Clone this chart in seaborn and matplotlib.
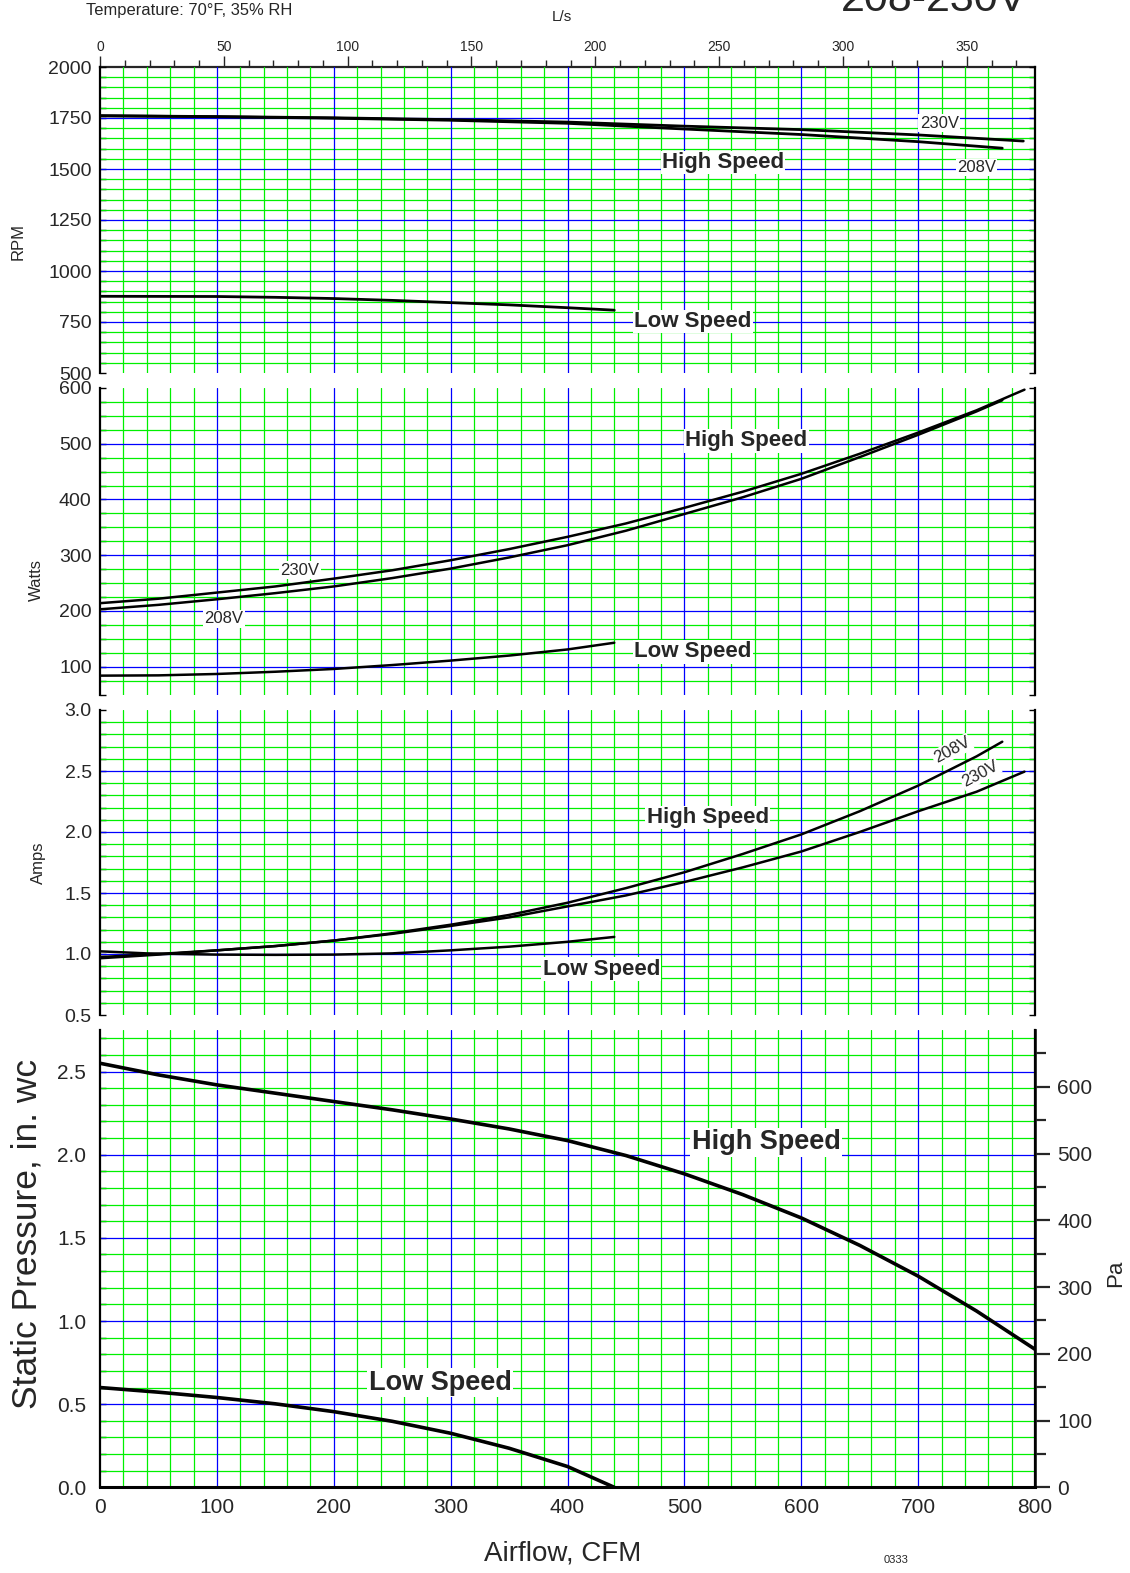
import numpy as np
import pandas as pd
import matplotlib
matplotlib.use("Agg")
import matplotlib.pyplot as plt
import seaborn as sns
from matplotlib.ticker import MultipleLocator, FormatStrFormatter

sns.set_style("white")
plt.rcParams['font.family'] = ['Liberation Sans', 'DejaVu Sans']

# ---------------- data ----------------
rpm_cfm_230 = [0, 100, 200, 300, 400, 500, 600, 700, 790]
rpm_high_230 = [1761, 1757, 1751, 1742, 1730, 1710, 1693, 1667, 1637]
rpm_cfm_208 = [0, 100, 200, 300, 400, 500, 600, 700, 772]
rpm_high_208 = [1761, 1756, 1749, 1739, 1724, 1696, 1669, 1634, 1602]
rpm_cfm_low = [0, 100, 150, 200, 250, 300, 350, 400, 440]
rpm_low = [876, 875, 871, 865, 856, 845, 834, 820, 808]

w_cfm_230 = [0, 50, 100, 150, 200, 250, 300, 350, 400, 450, 500, 550, 600, 650, 700, 750, 791]
w_high_230 = [214, 222, 233, 244, 258, 273, 291, 311, 333, 357, 385, 414, 446, 482, 520, 560, 597]
w_cfm_208 = [0, 50, 100, 150, 200, 250, 300, 350, 400, 450, 500, 550, 600, 650, 700, 750, 772]
w_high_208 = [203, 211, 221, 232, 244, 259, 276, 296, 318, 344, 374, 404, 437, 476, 516, 558, 578]
w_cfm_low = [0, 50, 100, 150, 200, 250, 300, 350, 400, 440]
w_low = [84, 84.5, 87, 91, 96, 103, 111, 120, 131, 143]

a_cfm_230 = [0, 50, 100, 150, 200, 250, 300, 350, 400, 450, 500, 550, 600, 650, 700, 750, 791]
a_high_230 = [0.975, 1.0, 1.03, 1.065, 1.11, 1.165, 1.23, 1.30, 1.39, 1.48, 1.59, 1.71, 1.84, 2.0, 2.17, 2.33, 2.495]
a_cfm_208 = [0, 50, 100, 150, 200, 250, 300, 350, 400, 450, 500, 550, 600, 650, 700, 750, 772]
a_high_208 = [0.965, 0.995, 1.03, 1.065, 1.11, 1.17, 1.24, 1.32, 1.42, 1.54, 1.67, 1.82, 1.98, 2.17, 2.38, 2.62, 2.74]
a_cfm_low = [0, 40, 100, 150, 200, 250, 300, 350, 400, 440]
a_low = [1.022, 1.005, 0.995, 0.993, 0.995, 1.005, 1.03, 1.06, 1.10, 1.14]

sp_cfm_high = [0, 50, 100, 150, 200, 250, 300, 350, 400, 450, 500, 550, 600, 650, 700, 750, 800]
sp_high = [2.55, 2.48, 2.42, 2.37, 2.32, 2.27, 2.215, 2.155, 2.085, 1.995, 1.885, 1.76, 1.62, 1.455, 1.27, 1.06, 0.83]
sp_cfm_low = [0, 50, 100, 150, 200, 250, 300, 350, 400, 440]
sp_low = [0.60, 0.572, 0.54, 0.502, 0.455, 0.397, 0.325, 0.235, 0.125, 0.0]

x_ticks = [0, 100, 200, 300, 400, 500, 600, 700, 800]

GREEN = '#00f000'
BLUE = '#0000ff'
CFM_PER_LS = 2.11888
PA_PER_IN = 249.089

# ---------------- figure / axes ----------------
W_PX, H_PX = 1130, 1573
fig = plt.figure(figsize=(W_PX / 100, H_PX / 100), dpi=100)
LEFT = 100 / W_PX
WIDTH = 935 / W_PX


def make_ax(top, bottom):
    return fig.add_axes([LEFT, 1 - bottom / H_PX, WIDTH, (bottom - top) / H_PX])


ax_rpm = make_ax(67, 373)
ax_w = make_ax(388, 694.6)
ax_a = make_ax(710, 1015)
ax_sp = make_ax(1030, 1487.3)


def setup(ax, ymin, ymax, minor, major, fmt, labelsize, pad, top=False, bottom=False, right_ticks=True):
    ax.set_xlim(0, 800)
    ax.set_ylim(ymin, ymax)
    ax.set_facecolor('white')
    for k in range(1, 40):
        x = k * 20
        if x % 100 != 0:
            ax.axvline(x, color=GREEN, lw=0.9, zorder=1)
    for k in range(1, 8):
        ax.axvline(k * 100, color=BLUE, lw=0.9, zorder=1.2)
    kmin = int(np.ceil(ymin / minor - 1e-9))
    kmax = int(np.floor(ymax / minor + 1e-9))
    ratio = int(round(major / minor))
    for k in range(kmin, kmax + 1):
        y = k * minor
        if abs(y - ymin) < 1e-9 or abs(y - ymax) < 1e-9:
            continue
        if k % ratio == 0:
            ax.axhline(y, color=BLUE, lw=0.9, zorder=1.1)
        else:
            ax.axhline(y, color=GREEN, lw=0.9, zorder=1)
    ax.yaxis.set_major_locator(MultipleLocator(major))
    ax.yaxis.set_minor_locator(MultipleLocator(minor))
    ax.yaxis.set_major_formatter(FormatStrFormatter(fmt))
    ax.tick_params(axis='y', which='both', left=True, right=right_ticks, direction='in',
                   length=4, width=1, color='black', labelsize=labelsize, pad=pad)
    ax.spines['top'].set_visible(top)
    ax.spines['bottom'].set_visible(bottom)
    for s in ['left', 'right', 'top', 'bottom']:
        ax.spines[s].set_color('black')
        ax.spines[s].set_linewidth(1.6)
        ax.spines[s].set_zorder(5)
    ax.set_xlabel('')
    ax.set_ylabel('')


setup(ax_rpm, 500, 2000, 50, 250, '%d', 14, 6)
setup(ax_w, 50, 600, 25, 100, '%d', 14, 6)
setup(ax_a, 0.5, 3.0, 0.1, 0.5, '%.1f', 14, 6)
setup(ax_sp, 0.0, 2.75, 0.1, 0.5, '%.1f', 15, 10, bottom=True, right_ticks=False)
ax_sp.spines['bottom'].set_linewidth(2.2)

for ax in (ax_rpm, ax_w, ax_a):
    ax.tick_params(axis='x', which='both', bottom=False, top=False, labelbottom=False)
ax_rpm.set_yticks([500, 750, 1000, 1250, 1500, 1750, 2000])
ax_w.set_yticks([100, 200, 300, 400, 500, 600])
ax_a.set_yticks([0.5, 1.0, 1.5, 2.0, 2.5, 3.0])

ax_sp.set_xticks(x_ticks)
ax_sp.tick_params(axis='x', which='both', bottom=True, top=False, direction='in', length=0,
                  labelsize=15, pad=8)
ax_sp.set_yticks([0.0, 0.5, 1.0, 1.5, 2.0, 2.5])


# ---------------- curves ----------------
def curve(ax, xs, ys, lw):
    df = pd.DataFrame({'cfm': xs, 'val': ys})
    sns.lineplot(data=df, x='cfm', y='val', ax=ax, color='black', lw=lw,
                 estimator=None, sort=False, zorder=4)
    ax.set_xlabel('')
    ax.set_ylabel('')


curve(ax_rpm, rpm_cfm_230, rpm_high_230, 2.0)
curve(ax_rpm, rpm_cfm_208, rpm_high_208, 2.0)
curve(ax_rpm, rpm_cfm_low, rpm_low, 2.0)
curve(ax_w, w_cfm_230, w_high_230, 1.8)
curve(ax_w, w_cfm_208, w_high_208, 1.8)
curve(ax_w, w_cfm_low, w_low, 1.8)
curve(ax_a, a_cfm_230, a_high_230, 1.8)
curve(ax_a, a_cfm_208, a_high_208, 1.8)
curve(ax_a, a_cfm_low, a_low, 1.8)
curve(ax_sp, sp_cfm_high, sp_high, 2.6)
curve(ax_sp, sp_cfm_low, sp_low, 2.6)

# ---------------- annotations ----------------
box = dict(facecolor='white', edgecolor='none', pad=1.0)


def label(ax, x, y, s, size, bold=False, rot=0):
    ax.text(x, y, s, fontsize=size, fontweight='bold' if bold else 'normal',
            ha='center', va='center', rotation=rot, bbox=box, zorder=6,
            rotation_mode='anchor')


label(ax_rpm, 533, 1532, 'High Speed', 16, True)
label(ax_rpm, 507, 752, 'Low Speed', 16, True)
label(ax_rpm, 718, 1725, '230V', 12)
label(ax_rpm, 750, 1507, '208V', 12)

label(ax_w, 553, 505, 'High Speed', 16, True)
label(ax_w, 507, 127, 'Low Speed', 16, True)
label(ax_w, 171, 273, '230V', 12)
label(ax_w, 106, 186, '208V', 12)

label(ax_a, 520, 2.12, 'High Speed', 16, True)
label(ax_a, 429, 0.875, 'Low Speed', 16, True)
label(ax_a, 729, 2.67, '208V', 12, rot=28)
label(ax_a, 753, 2.478, '230V', 12, rot=28)

label(ax_sp, 570, 2.074, 'High Speed', 19.5, True)
label(ax_sp, 291, 0.63, 'Low Speed', 19.5, True)

# ---------------- secondary axes ----------------
top = ax_rpm.secondary_xaxis('top', functions=(lambda x: x / CFM_PER_LS, lambda x: x * CFM_PER_LS))
top.xaxis.set_major_locator(MultipleLocator(50))
top.xaxis.set_minor_locator(MultipleLocator(10))
top.tick_params(which='major', direction='out', length=8, width=1, labelsize=10, pad=1)
top.tick_params(which='minor', direction='out', length=5, width=1)
top.spines['top'].set_linewidth(1.6)

pa = ax_sp.secondary_yaxis('right', functions=(lambda y: y * PA_PER_IN, lambda p: p / PA_PER_IN))
pa.yaxis.set_major_locator(MultipleLocator(100))
pa.yaxis.set_minor_locator(MultipleLocator(50))
pa.tick_params(which='major', direction='out', length=11, width=1.6, labelsize=15, pad=5)
pa.tick_params(which='minor', direction='out', length=8, width=1.6)
pa.spines['right'].set_linewidth(2.0)


# ---------------- figure texts ----------------
def ftext(xp, yp, s, size, rot=0, ha='center', va='center', **kw):
    fig.text(xp / W_PX, 1 - yp / H_PX, s, fontsize=size, rotation=rot, ha=ha, va=va, **kw)


ftext(86, 10, 'Temperature: 70°F, 35% RH', 11.9, ha='left')
ftext(562, 17, 'L/s', 11)
ftext(1027, 11, '208-230V', 31, ha='right', va='baseline')
ftext(18, 241, 'RPM', 12, rot=90)
ftext(36, 580, 'Watts', 12, rot=90)
ftext(38, 863, 'Amps', 12, rot=90)
ftext(27, 1234, 'Static Pressure, in. wc', 25.5, rot=90)
ftext(1116, 1273, 'Pa', 16, rot=90)
ftext(563, 1553, 'Airflow, CFM', 20)
ftext(896, 1560, '0333', 8)

fig.savefig('out.png', dpi=100)
